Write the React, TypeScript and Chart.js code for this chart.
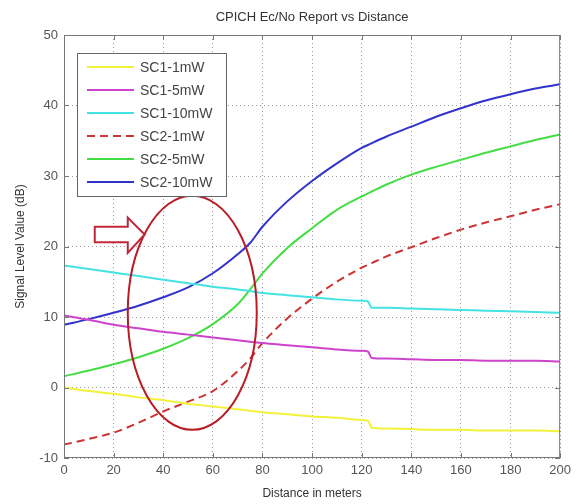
import React, { useEffect, useRef } from "react";
import { Chart, registerables } from "chart.js";

Chart.register(...registerables);

const chartTitle = "CPICH Ec/No Report vs Distance";
const xTitle = "Distance in meters";
const yTitle = "Signal Level Value (dB)";

const distances = [0, 10, 20, 30, 40, 50, 60, 70, 75, 80, 90, 100, 110, 120, 122.5, 124, 130, 140, 150, 160, 170, 180, 190, 200];

const sc1_1mW = [0, -0.5, -0.9, -1.4, -1.8, -2.3, -2.7, -3.1, -3.3, -3.5, -3.8, -4.1, -4.3, -4.6, -4.7, -5.7, -5.8, -5.9, -6.0, -6.0, -6.1, -6.1, -6.1, -6.2];
const sc1_5mW = [10.2, 9.6, 8.9, 8.4, 7.9, 7.5, 7.1, 6.7, 6.5, 6.3, 6.0, 5.7, 5.4, 5.2, 5.1, 4.2, 4.1, 4.0, 3.9, 3.9, 3.8, 3.8, 3.8, 3.7];
const sc1_10mW = [17.3, 16.8, 16.3, 15.8, 15.3, 14.8, 14.3, 13.9, 13.7, 13.4, 13.1, 12.8, 12.5, 12.3, 12.2, 11.3, 11.3, 11.2, 11.1, 11.0, 10.9, 10.8, 10.7, 10.6];
const sc2_1mW = [-8.1, -7.3, -6.4, -5.0, -3.4, -2.0, -0.5, 2.3, 4.1, 6.3, 9.8, 12.6, 15.0, 17.0, 17.4, 17.65, 18.6, 19.9, 21.2, 22.4, 23.4, 24.3, 25.2, 26.0];
const sc2_5mW = [1.6, 2.4, 3.3, 4.3, 5.5, 7.0, 9.0, 11.8, 13.9, 16.2, 19.8, 22.6, 25.2, 27.1, 27.55, 27.8, 28.8, 30.2, 31.3, 32.3, 33.3, 34.2, 35.1, 35.9];
const sc2_10mW = [8.9, 9.7, 10.6, 11.6, 12.8, 14.2, 16.2, 18.9, 20.5, 22.8, 26.4, 29.3, 31.8, 34.0, 34.4, 34.65, 35.6, 37.0, 38.4, 39.6, 40.7, 41.6, 42.4, 43.0];

const seriesLabels = ["SC1-1mW", "SC1-5mW", "SC1-10mW", "SC2-1mW", "SC2-5mW", "SC2-10mW"];
const seriesValues = [sc1_1mW, sc1_5mW, sc1_10mW, sc2_1mW, sc2_5mW, sc2_10mW];
const seriesColors = ["#f2f23a", "#cc44cc", "#44e2e2", "#cc3333", "#44dd44", "#3333cc"];
const seriesDashes: number[][] = [[], [], [], [8, 5], [], []];

// annotation (in data units)
const ellipseCenter = { x: 51.7, y: 10.6 };
const ellipseRadius = { x: 26, y: 16.6 };
const arrowX = [12.4, 25.7, 32.5];
const arrowY = { bodyTop: 22.8, bodyBottom: 20.6, headTop: 24.1, headBottom: 19.1, tip: 21.7 };

const FONT = "Arial, 'Liberation Sans', sans-serif";

const decorPlugin = {
  id: "decor",
  afterDraw(chart: any) {
    const ctx = chart.ctx;
    const { left, right, top, bottom } = chart.chartArea;
    const xs = chart.scales.x;
    const ys = chart.scales.y;
    ctx.save();
    // frame
    ctx.strokeStyle = "#777";
    ctx.lineWidth = 1;
    ctx.setLineDash([]);
    ctx.strokeRect(left + 0.5, top + 0.5, right - left - 1, bottom - top - 1);
    // inner ticks
    ctx.beginPath();
    xs.ticks.forEach((t: any) => {
      const px = Math.round(xs.getPixelForValue(t.value)) + 0.5;
      ctx.moveTo(px, bottom);
      ctx.lineTo(px, bottom - 5);
      ctx.moveTo(px, top);
      ctx.lineTo(px, top + 5);
    });
    ys.ticks.forEach((t: any) => {
      const py = Math.round(ys.getPixelForValue(t.value)) + 0.5;
      ctx.moveTo(left, py);
      ctx.lineTo(left + 5, py);
      ctx.moveTo(right, py);
      ctx.lineTo(right - 5, py);
    });
    ctx.stroke();

    // ellipse
    const cx = xs.getPixelForValue(ellipseCenter.x);
    const cy = ys.getPixelForValue(ellipseCenter.y);
    const rx = Math.abs(xs.getPixelForValue(ellipseCenter.x + ellipseRadius.x) - cx);
    const ry = Math.abs(ys.getPixelForValue(ellipseCenter.y + ellipseRadius.y) - cy);
    ctx.beginPath();
    ctx.ellipse(cx, cy, rx, ry, 0, 0, Math.PI * 2);
    ctx.strokeStyle = "#b81c26";
    ctx.lineWidth = 2;
    ctx.stroke();

    // arrow
    const ax0 = xs.getPixelForValue(arrowX[0]);
    const ax1 = xs.getPixelForValue(arrowX[1]);
    const ax2 = xs.getPixelForValue(arrowX[2]);
    const bt = ys.getPixelForValue(arrowY.bodyTop);
    const bb = ys.getPixelForValue(arrowY.bodyBottom);
    const ht = ys.getPixelForValue(arrowY.headTop);
    const hb = ys.getPixelForValue(arrowY.headBottom);
    const tp = ys.getPixelForValue(arrowY.tip);
    ctx.beginPath();
    ctx.moveTo(ax0, bt);
    ctx.lineTo(ax1, bt);
    ctx.lineTo(ax1, ht);
    ctx.lineTo(ax2, tp);
    ctx.lineTo(ax1, hb);
    ctx.lineTo(ax1, bb);
    ctx.lineTo(ax0, bb);
    ctx.closePath();
    ctx.fillStyle = "#ffffff";
    ctx.fill();
    ctx.strokeStyle = "#c0283a";
    ctx.lineWidth = 2;
    ctx.stroke();

    // legend
    const lx = left + 13;
    const ly = top + 18;
    const lw = 149;
    const lh = 143;
    ctx.fillStyle = "#ffffff";
    ctx.fillRect(lx, ly, lw, lh);
    ctx.strokeStyle = "#666";
    ctx.lineWidth = 1;
    ctx.strokeRect(lx + 0.5, ly + 0.5, lw, lh);
    chart.data.datasets.forEach((ds: any, i: number) => {
      const ry2 = ly + 14 + i * 23;
      ctx.beginPath();
      ctx.setLineDash(ds.borderDash || []);
      ctx.strokeStyle = ds.borderColor;
      ctx.lineWidth = 2;
      ctx.moveTo(lx + 10, ry2);
      ctx.lineTo(lx + 57, ry2);
      ctx.stroke();
      ctx.setLineDash([]);
      ctx.fillStyle = "#444";
      ctx.font = `14px ${FONT}`;
      ctx.textAlign = "left";
      ctx.textBaseline = "middle";
      ctx.fillText(ds.label, lx + 63, ry2 + 1);
    });

    // texts
    ctx.fillStyle = "#333";
    ctx.textAlign = "center";
    ctx.textBaseline = "middle";
    ctx.font = `13px ${FONT}`;
    ctx.fillText(chartTitle, (left + right) / 2, 17);
    ctx.font = `12px ${FONT}`;
    ctx.fillText(xTitle, (left + right) / 2, 494);
    ctx.save();
    ctx.translate(21, (top + bottom) / 2);
    ctx.rotate(-Math.PI / 2);
    ctx.fillText(yTitle, 0, 0);
    ctx.restore();
    ctx.restore();
  },
};

export default function App() {
  const ref = useRef<HTMLCanvasElement | null>(null);
  useEffect(() => {
    if (!ref.current) return;
    const chart = new Chart(ref.current, {
      type: "line",
      data: {
        datasets: seriesLabels.map((label, i) => ({
          label,
          data: distances.map((d, j) => ({ x: d, y: seriesValues[i][j] })),
          borderColor: seriesColors[i],
          backgroundColor: seriesColors[i],
          borderWidth: 2,
          borderDash: seriesDashes[i],
          pointRadius: 0,
          fill: false,
          cubicInterpolationMode: "monotone" as const,
        })),
      },
      options: {
        animation: false,
        responsive: false,
        layout: { padding: { top: 35, right: 13, left: 0, bottom: 0 } },
        plugins: {
          legend: { display: false },
          title: { display: false },
          tooltip: { enabled: false },
        },
        scales: {
          x: {
            type: "linear",
            min: 0,
            max: 200,
            ticks: { stepSize: 20, color: "#555", font: { size: 13, family: FONT }, padding: 5, maxRotation: 0 },
            grid: { color: "#9a9a9a", drawTicks: false, lineWidth: 1 },
            border: { display: false, dash: [1, 3] },
            afterFit: (s: any) => {
              s.height = 46;
            },
          },
          y: {
            type: "linear",
            min: -10,
            max: 50,
            ticks: { stepSize: 10, color: "#555", font: { size: 13, family: FONT }, padding: 6 },
            grid: { color: "#9a9a9a", drawTicks: false, lineWidth: 1 },
            border: { display: false, dash: [1, 3] },
            afterFit: (s: any) => {
              s.width = 64;
            },
          },
        },
      },
      plugins: [decorPlugin],
    });
    return () => chart.destroy();
  }, []);
  return (
    <div style={{ position: "absolute", left: 0, top: 0, width: 576, height: 504, background: "#fff" }}>
      <canvas ref={ref} width={576} height={504} />
    </div>
  );
}
